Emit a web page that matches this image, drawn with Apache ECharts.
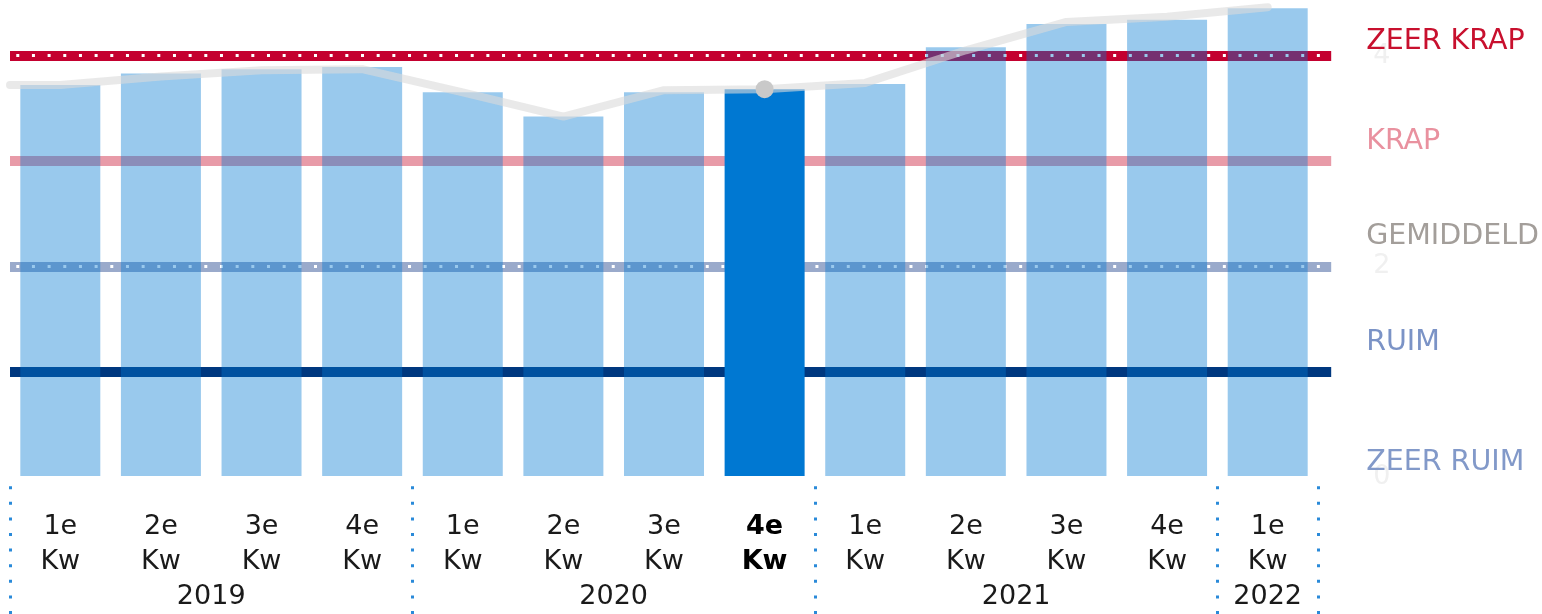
<!DOCTYPE html>
<html><head><meta charset="utf-8">
<script src="https://cdn.jsdelivr.net/npm/echarts@6/dist/echarts.min.js"></script>
<style>html,body{margin:0;padding:0;background:#fff}#c{width:1542px;height:614px}</style>
</head><body><div id="c"></div>
<script>
// ---- data ----
const quarterLabels = ['1e\nKw','2e\nKw','3e\nKw','4e\nKw','1e\nKw','2e\nKw','3e\nKw','4e\nKw','1e\nKw','2e\nKw','3e\nKw','4e\nKw','1e\nKw'];
const years = ['2019','2020','2021','2022'];
const quartersPerYear = [4, 4, 4, 1];
const barValues = [3.72, 3.83, 3.87, 3.89, 3.65, 3.42, 3.65, 3.68, 3.73, 4.08, 4.30, 4.34, 4.45];
const trendLeadIn = 3.72;
const trendValues = [3.72, 3.80, 3.86, 3.87, 3.65, 3.42, 3.67, 3.68, 3.74, 4.05, 4.32, 4.37, 4.46];
const highlightIndex = 7;
const levelValues = [0, 1, 2, 3, 4];
const levelNames = ['ZEER RUIM', 'RUIM', 'GEMIDDELD', 'KRAP', 'ZEER KRAP'];
const scaleTickLabels = [0, 2, 4];

// ---- styles ----
const FONT = 'DejaVu Sans';
const BLUE = '#0078d2';
const levelTextColors = ['#8299c9', '#7b93c6', '#a39e9a', '#e9919f', '#c8102e'];
const levelTextLift = [29, 59, 59, 39, 28];
const levelLineColors = [null, '#00387f', '#9aaacb', '#e89ba8', '#c4002f'];
const levelDotted = [false, false, true, false, true];

// derived group positions
let start = 0;
const yearCenters = [];
const boundaries = [-0.5];
quartersPerYear.forEach((n, i) => {
  yearCenters.push(start + (n - 1) / 2);
  start += n;
  boundaries.push(start - 0.5);
});

const levelRich = {};
levelValues.forEach((v, i) => {
  levelRich['l' + i] = {
    color: levelTextColors[i], fontSize: 28.5, fontFamily: FONT,
    padding: [0, 0, levelTextLift[i], 0]
  };
});

const chart = echarts.init(document.getElementById('c'), null, {renderer: 'canvas'});
chart.setOption({
  backgroundColor: '#ffffff',
  animation: false,
  grid: [
    {left: 10, right: 209, top: 3, bottom: 137},
    {left: 10, right: 224, top: 3, bottom: 137},
    {left: 10, right: 224, top: 486, bottom: 0}
  ],
  xAxis: [
    {gridIndex: 0, type: 'value', min: 0, max: 1, show: false},
    {gridIndex: 1, type: 'category', data: quarterLabels,
      axisLine: {show: false}, axisTick: {show: false},
      axisLabel: {
        margin: 33, interval: 0,
        formatter: (val, idx) => {
          const key = idx === highlightIndex ? 'b' : 'n';
          return val.split('\n').map(s => '{' + key + '|' + s + '}').join('\n');
        },
        rich: {
          n: {fontSize: 27, fontFamily: FONT, color: '#1a1a1a', lineHeight: 35},
          b: {fontSize: 27, fontFamily: FONT, color: '#000', fontWeight: 'bold', lineHeight: 35}
        }
      }
    },
    {gridIndex: 1, type: 'value', min: -0.5, max: 12.5, interval: 0.5, position: 'bottom',
      axisLine: {show: false}, axisTick: {show: false}, splitLine: {show: false},
      axisLabel: {
        margin: 103, fontSize: 27, fontFamily: FONT, color: '#1a1a1a', lineHeight: 35,
        showMinLabel: true, showMaxLabel: true,
        formatter: (v) => {
          const i = yearCenters.findIndex(c => Math.abs(c - v) < 1e-6);
          return i >= 0 ? years[i] : '';
        }
      }
    },
    {gridIndex: 2, type: 'value', min: -0.5, max: 12.5, show: false}
  ],
  yAxis: [
    {gridIndex: 0, type: 'value', min: 0, max: 4.5, interval: 2, position: 'right',
      axisLine: {show: false}, axisTick: {show: false}, splitLine: {show: false},
      axisLabel: {margin: 42, fontSize: 27, fontFamily: FONT, color: '#f0f0f0',
        formatter: (v) => scaleTickLabels.indexOf(v) >= 0 ? String(v) : ''}
    },
    {gridIndex: 0, type: 'value', min: 0, max: 4.5, interval: 1, position: 'right',
      axisLine: {show: false}, axisTick: {show: false}, splitLine: {show: false},
      axisLabel: {margin: 35, align: 'left',
        formatter: (v) => {
          const i = levelValues.indexOf(v);
          return i >= 0 ? '{l' + i + '|' + levelNames[i] + '}' : '';
        },
        rich: levelRich
      }
    },
    {gridIndex: 1, type: 'value', min: 0, max: 4.5, show: false},
    {gridIndex: 2, type: 'value', min: 0, max: 1, show: false}
  ],
  series: [
    {
      type: 'line', xAxisIndex: 0, yAxisIndex: 0, data: [], z: 1, silent: true,
      markLine: {
        z: 1, silent: true, symbol: ['none', 'none'], label: {show: false}, emphasis: {disabled: true},
        animation: false,
        data: levelValues.map((v, i) => levelLineColors[i] ? ({yAxis: v,
          lineStyle: {color: levelLineColors[i], width: 10, type: 'solid', opacity: 1}}) : null).filter(Boolean)
      }
    },
    {
      type: 'line', xAxisIndex: 0, yAxisIndex: 0, data: [], z: 2, silent: true,
      markLine: {
        z: 2, silent: true, symbol: ['none', 'none'], label: {show: false}, emphasis: {disabled: true},
        animation: false,
        data: levelValues.map((v, i) => levelDotted[i] ? ({yAxis: v,
          lineStyle: {color: '#ffffff', width: 3, type: [3, 12.67], dashOffset: 9.4, opacity: 1}}) : null).filter(Boolean)
      }
    },
    {
      type: 'bar', xAxisIndex: 1, yAxisIndex: 2, z: 3, barWidth: 80, silent: true,
      data: barValues.map((v, i) => ({
        value: v,
        itemStyle: {color: BLUE, opacity: i === highlightIndex ? 1 : 0.4}
      }))
    },
    {
      type: 'line', xAxisIndex: 2, yAxisIndex: 2, z: 4, silent: true, showSymbol: false,
      data: [[-0.5, trendLeadIn]].concat(trendValues.map((v, i) => [i, v])),
      lineStyle: {color: '#dadada', opacity: 0.6, width: 8, cap: 'round', join: 'round'}
    },
    {
      type: 'scatter', xAxisIndex: 2, yAxisIndex: 2, z: 5, silent: true,
      symbolSize: 18, itemStyle: {color: '#c9c9c9', opacity: 1},
      data: [[highlightIndex, trendValues[highlightIndex]]]
    },
    {
      type: 'line', xAxisIndex: 3, yAxisIndex: 3, data: [], z: 1, silent: true,
      markLine: {
        z: 1, silent: true, symbol: ['none', 'none'], label: {show: false}, emphasis: {disabled: true},
        animation: false,
        data: boundaries.map(b => ({xAxis: b})),
        lineStyle: {color: '#2a8ad9', width: 3, type: [3, 12.6], opacity: 1}
      }
    }
  ]
});
</script>
</body></html>
